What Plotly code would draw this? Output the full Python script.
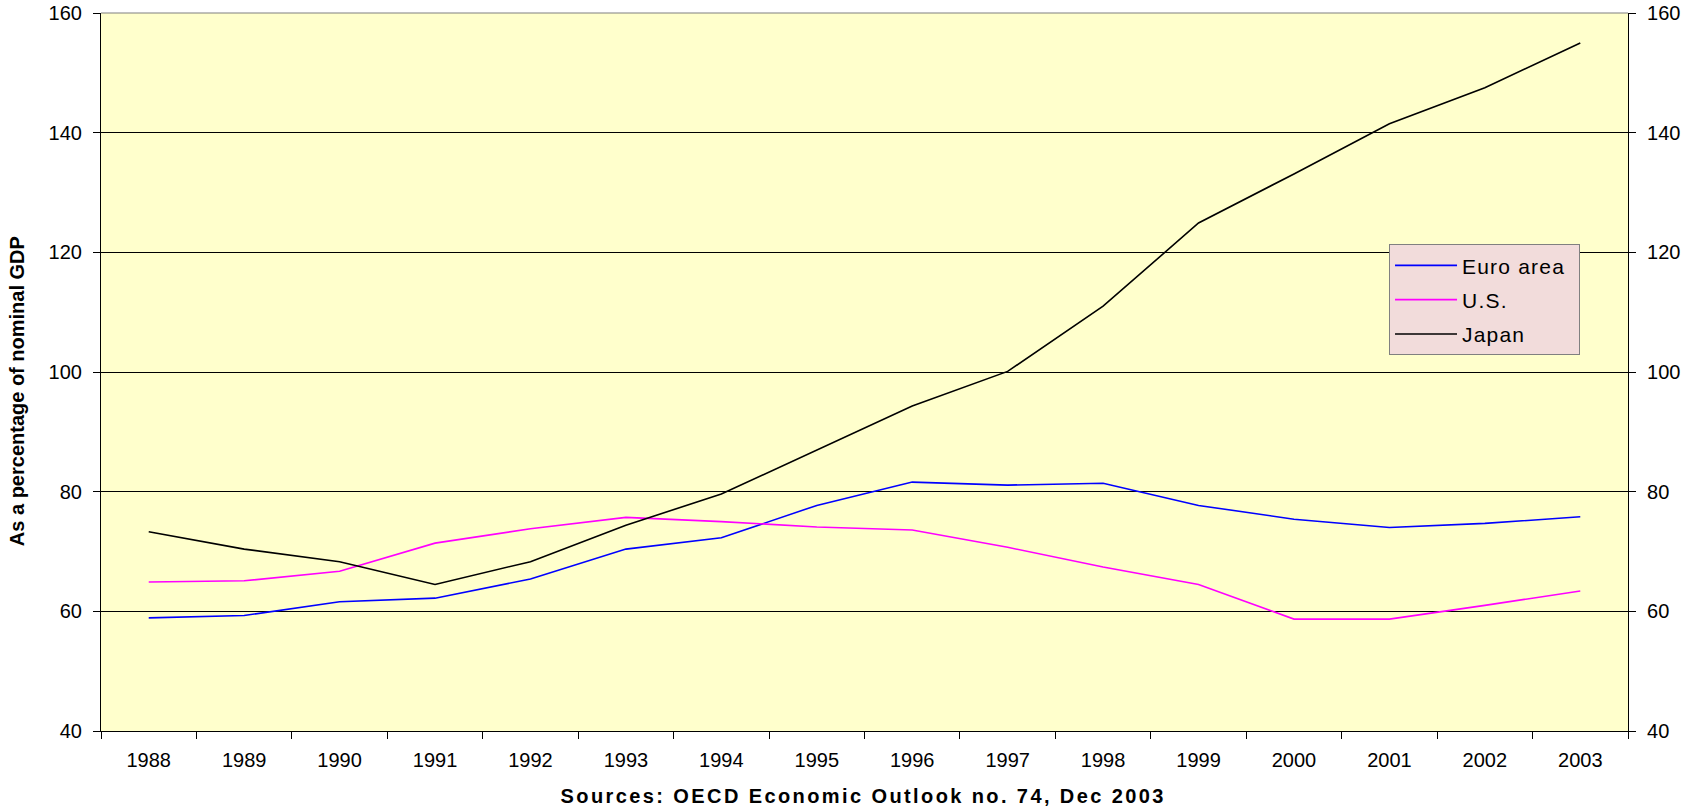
import plotly.graph_objects as go

years = ["1988", "1989", "1990", "1991", "1992", "1993", "1994", "1995",
         "1996", "1997", "1998", "1999", "2000", "2001", "2002", "2003"]
euro_area = [58.9, 59.3, 61.6, 62.2, 65.4, 70.4, 72.3, 77.7,
             81.6, 81.1, 81.4, 77.7, 75.4, 74.0, 74.7, 75.8]
us = [64.9, 65.1, 66.7, 71.4, 73.8, 75.7, 75.0, 74.1,
      73.6, 70.7, 67.4, 64.5, 58.7, 58.7, 61.0, 63.4]
japan = [73.3, 70.4, 68.3, 64.5, 68.3, 74.4, 79.6, 87.0,
         94.3, 100.1, 111.0, 124.9, 133.1, 141.5, 147.5, 155.0]
y_ticks = [40, 60, 80, 100, 120, 140, 160]

FONT = "Liberation Sans, Arial, sans-serif"
FS = 20

fig = go.Figure()
series = [("Euro area", euro_area, "#0000FF"),
          ("U.S.", us, "#FF00FF"),
          ("Japan", japan, "#000000")]
for i, (name, vals, col) in enumerate(series):
    fig.add_trace(go.Scatter(x=years, y=vals, name=name, mode="lines",
                             line=dict(color=col, width=1.6),
                             legendgroup=f"g{i}"))

# invisible trace to carry the right-hand axis
fig.add_trace(go.Scatter(x=years, y=japan, yaxis="y2", mode="lines",
                         line=dict(color="rgba(0,0,0,0)", width=0),
                         showlegend=False, hoverinfo="skip"))

yax_common = dict(range=[40, 160], tickvals=y_ticks, ticks="outside", ticklen=7,
                  tickcolor="black", showline=True, linecolor="black",
                  linewidth=1.2, zeroline=False, automargin=False,
                  tickfont=dict(size=FS))

fig.update_layout(
    width=1685, height=812,
    margin=dict(l=101, r=57, t=13, b=81),
    paper_bgcolor="white",
    plot_bgcolor="#FFFFCC",
    font=dict(family=FONT, size=FS, color="black"),
    showlegend=True,
    legend=dict(x=0.8435, y=0.678, xanchor="left", yanchor="top",
                bgcolor="#F2DCDB", bordercolor="#808080", borderwidth=1,
                font=dict(size=21), traceorder="grouped", tracegroupgap=4,
                itemwidth=62),
    xaxis=dict(type="category", range=[-0.5, 15.5], tickson="boundaries",
               ticks="outside", ticklen=7, tickcolor="black",
               showline=True, linecolor="black", linewidth=1.2,
               showgrid=False, zeroline=False, automargin=False,
               tickfont=dict(size=FS), ticklabelstandoff=11),
    yaxis=dict(**yax_common, showgrid=True, gridcolor="black", gridwidth=1,
               ticklabelstandoff=7),
    yaxis2=dict(**yax_common, overlaying="y", side="right", anchor="x",
                showgrid=False, ticklabelstandoff=7),
)

# grey top border of plot area
fig.add_shape(type="line", xref="paper", yref="paper", x0=0, x1=1, y0=1, y1=1,
              line=dict(color="#808080", width=1.2), layer="above")

fig.add_annotation(text="<b>As a percentage of nominal GDP</b>",
                   xref="paper", yref="paper", x=-0.0545, y=0.473,
                   xanchor="center", yanchor="middle", textangle=-90,
                   showarrow=False, font=dict(family=FONT, size=FS, color="black"))

fig.add_annotation(text="<b>Sources: OECD Economic Outlook no. 74, Dec 2003</b>",
                   xref="paper", yref="paper", x=0.499, y=-0.091,
                   xanchor="center", yanchor="middle", showarrow=False,
                   font=dict(family=FONT, size=20, color="black"))

post = """
document.documentElement.style.overflow='hidden';
document.body.style.margin='0';
document.body.style.overflow='hidden';
document.querySelectorAll('.annotation-text').forEach(function(t){
  if (t.textContent.indexOf('Sources') === 0) { t.style.letterSpacing = '2.4px'; }
});
var lg = document.querySelector('.legend');
if (lg) {
  lg.querySelectorAll('.legendtext').forEach(function(t){
    t.style.letterSpacing = '1.2px';
  });
  var W = 190;
  var bg = lg.querySelector('rect.bg');
  if (bg) { bg.setAttribute('width', W); }
  var sb = lg.querySelector('.scrollbox');
  if (sb) {
    var cp = sb.getAttribute('clip-path') || '';
    var m = cp.match(/#([^)"']+)/);
    if (m) {
      var c = document.getElementById(m[1]);
      if (c) { var r = c.querySelector('rect'); if (r) { r.setAttribute('width', W); } }
    }
  }
}
"""

fig.write_html("out.html", post_script=post,
               config={"displayModeBar": False})
